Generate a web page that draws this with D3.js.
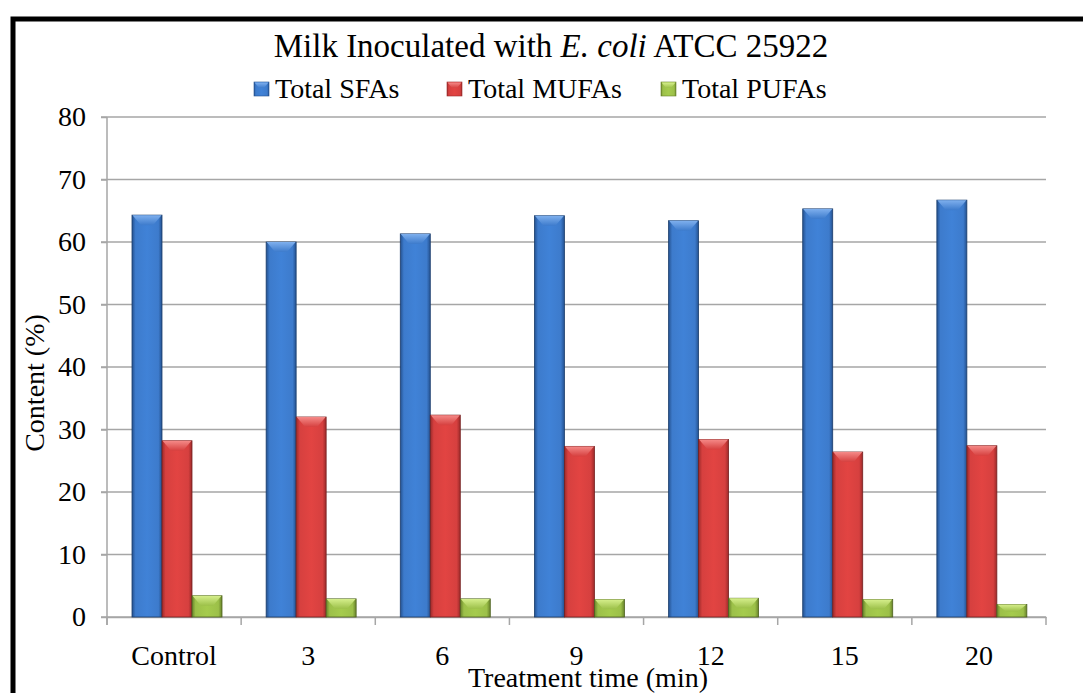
<!DOCTYPE html>
<html>
<head>
<meta charset="utf-8">
<script src="https://cdn.jsdelivr.net/npm/d3@7"></script>
<style>
  body { margin: 0; background: #fff; }
  svg { display: block; font-family: "Liberation Serif", "Times New Roman", serif; }
</style>
</head>
<body>
<svg width="1083" height="693"></svg>
<script>
const categories = ["Control", "3", "6", "9", "12", "15", "20"];
const seriesNames = ["Total SFAs", "Total MUFAs", "Total PUFAs"];
const sfa = [64.3, 60.0, 61.3, 64.2, 63.4, 65.3, 66.7];
const mufa = [28.2, 32.0, 32.3, 27.3, 28.4, 26.4, 27.4];
const pufa = [3.4, 2.9, 2.9, 2.8, 3.0, 2.8, 2.0];
const yTicks = [0, 10, 20, 30, 40, 50, 60, 70, 80];

const svg = d3.select("svg");

// colours: [edge, mid, top-face]
const palette = {
    "Total SFAs": ["#24518f", "#3d7bcc", "#7fb0ee"],
    "Total MUFAs": ["#9c2a2a", "#d6403f", "#f58a88"],
    "Total PUFAs": ["#68832a", "#9cc049", "#d6ef8c"]
};

const defs = svg.append("defs");
seriesNames.forEach((s, i) => {
    const c = palette[s];
    const g = defs.append("linearGradient").attr("id", "g" + i)
        .attr("x1", 0).attr("x2", 1).attr("y1", 0).attr("y2", 0);
    g.append("stop").attr("offset", 0).attr("stop-color", c[0]);
    g.append("stop").attr("offset", 0.12).attr("stop-color", c[1]);
    g.append("stop").attr("offset", 0.5).attr("stop-color", d3.color(c[1]).brighter(0.15));
    g.append("stop").attr("offset", 0.88).attr("stop-color", c[1]);
    g.append("stop").attr("offset", 1).attr("stop-color", c[0]);
    const t = defs.append("linearGradient").attr("id", "t" + i)
        .attr("x1", 0).attr("x2", 0).attr("y1", 0).attr("y2", 1);
    t.append("stop").attr("offset", 0).attr("stop-color", c[2]);
    t.append("stop").attr("offset", 1).attr("stop-color", c[1]);
});

// outer frame
svg.append("rect")
    .attr("x", 13).attr("y", 19)
    .attr("width", 1090).attr("height", 700)
    .attr("fill", "none").attr("stroke", "#000").attr("stroke-width", 5);

const x = d3.scaleBand().domain(categories).range([107, 1046]);
const xs = d3.scaleBand().domain(seriesNames).range([25, 115]);
const y = d3.scaleLinear().domain([0, 80]).range([617, 117]);

// gridlines
svg.append("g")
    .selectAll("line")
    .data(yTicks)
    .join("line")
    .attr("x1", 101).attr("x2", 1046)
    .attr("y1", d => y(d)).attr("y2", d => y(d))
    .attr("stroke", "#a6a6a6").attr("stroke-width", 1.5);

// y axis
const yAxis = svg.append("g")
    .attr("transform", "translate(107,0)")
    .call(d3.axisLeft(y).tickValues(yTicks).tickSize(6).tickPadding(15));
yAxis.select(".domain").attr("stroke", "#a6a6a6").attr("stroke-width", 1.5)
    .attr("d", "M0,117V625");
yAxis.selectAll(".tick line").attr("stroke", "#a6a6a6").attr("stroke-width", 1.5);
yAxis.selectAll(".tick text")
    .attr("font-family", "Liberation Serif")
    .attr("font-size", 28).attr("fill", "#000");

// x axis
const xAxis = svg.append("g")
    .attr("transform", "translate(0,617)")
    .call(d3.axisBottom(x).tickSize(0).tickPadding(28));
xAxis.select(".domain").attr("stroke", "#a6a6a6").attr("stroke-width", 1.5);
xAxis.selectAll(".tick text")
    .attr("font-family", "Liberation Serif")
    .attr("font-size", 28).attr("fill", "#000");
svg.append("g")
    .selectAll("line")
    .data(d3.range(categories.length + 1))
    .join("line")
    .attr("x1", i => 107 + i * x.step()).attr("x2", i => 107 + i * x.step())
    .attr("y1", 617).attr("y2", 625)
    .attr("stroke", "#a6a6a6").attr("stroke-width", 1.5);

// bars
const allSeries = [sfa, mufa, pufa];
const bw = xs.bandwidth();
seriesNames.forEach((s, si) => {
    const grp = svg.append("g");
    const data = categories.map((c, i) => ({ c, v: allSeries[si][i] }));
    const bars = grp.selectAll("g").data(data).join("g")
        .attr("transform", d => `translate(${x(d.c) + xs(s)},0)`);
    bars.append("rect")
        .attr("x", 0).attr("width", bw)
        .attr("y", d => y(d.v)).attr("height", d => y(0) - y(d.v))
        .attr("fill", `url(#g${si})`)
        .attr("stroke", d3.color(palette[s][0]).darker(0.8))
        .attr("stroke-width", 0.8);
    bars.append("path")
        .attr("d", d => {
            const t = y(d.v);
            const h = Math.min(10, (y(0) - t) * 0.55);
            return `M0.5,${t}L${bw - 0.5},${t}L${bw - 9},${t + h}L9,${t + h}Z`;
        })
        .attr("fill", `url(#t${si})`);
});

// title
const title = svg.append("text")
    .attr("x", 551).attr("y", 57)
    .attr("text-anchor", "middle")
    .attr("font-size", 33).attr("fill", "#000");
title.append("tspan").text("Milk Inoculated with ");
title.append("tspan").attr("font-style", "italic").text("E. coli");
title.append("tspan").text(" ATCC 25922");

// legend
const legendX = [254, 447, 661];
const leg = svg.append("g").selectAll("g").data(seriesNames).join("g")
    .attr("transform", (d, i) => `translate(${legendX[i]},82)`);
leg.append("rect").attr("width", 15).attr("height", 14)
    .attr("fill", (d, i) => `url(#g${i})`)
    .attr("stroke", d => palette[d][0]).attr("stroke-width", 0.6);
leg.append("path").attr("d", "M0.5,0.5L14.5,0.5L10,6L5,6Z")
    .attr("fill", (d, i) => `url(#t${i})`);
leg.append("text").attr("x", 21).attr("y", 16)
    .attr("font-size", 28).attr("fill", "#000")
    .text(d => d);

// axis titles
svg.append("text")
    .attr("transform", "translate(44,383) rotate(-90)")
    .attr("text-anchor", "middle")
    .attr("font-size", 28).attr("fill", "#000")
    .text("Content (%)");
svg.append("text")
    .attr("x", 588).attr("y", 687)
    .attr("text-anchor", "middle")
    .attr("font-size", 28).attr("fill", "#000")
    .text("Treatment time (min)");
</script>
</body>
</html>
